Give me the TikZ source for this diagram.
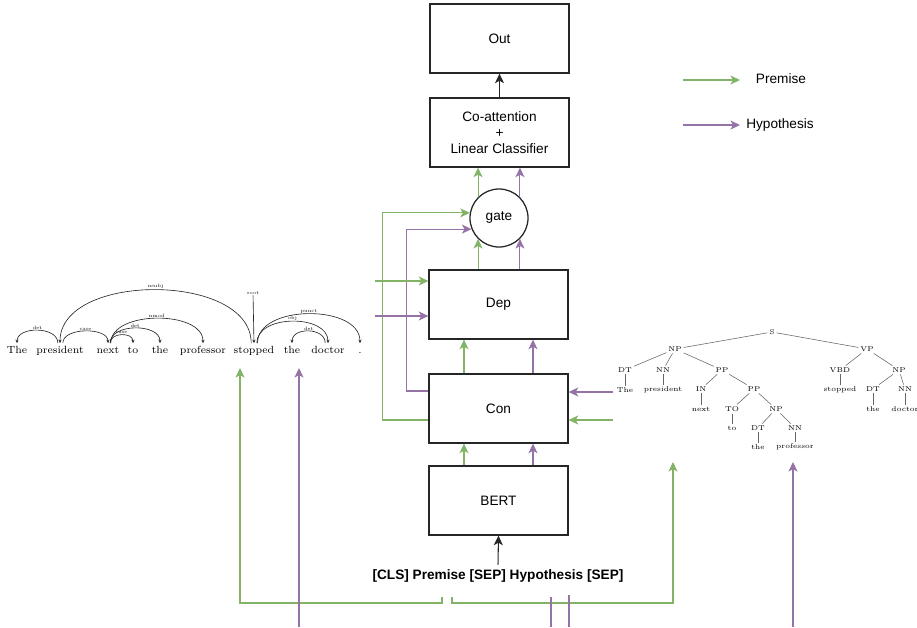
\documentclass[tikz,border=0pt]{standalone}
\usepackage{fontspec}
\setsansfont{Liberation Sans}
\usetikzlibrary{arrows.meta,calc}
\definecolor{premgreen}{HTML}{82B366}
\definecolor{hyppurple}{HTML}{9673A6}
\tikzset{
  box/.style={draw=black!85,line width=0.9pt,minimum width=3.475cm,minimum height=1.725cm,
    inner sep=0pt,align=center,font=\sffamily\fontsize{9.7}{11.2}\selectfont},
  prem/.style={draw=premgreen,line width=0.75pt},
  hyp/.style={draw=hyppurple,line width=0.75pt},
  flow/.style={draw=black!85,line width=0.75pt},
  legend/.style={font=\sffamily\fontsize{9.7}{11}\selectfont},
  % dependency parse
  dword/.style={anchor=base,inner sep=0.6pt,text height=1.45ex,text depth=0.2ex,
    font=\fontsize{7.4}{8}\selectfont},
  darc/.style={draw=black!85,line width=0.45pt,-{Stealth[length=2.4pt,width=2.2pt]}},
  dlab/.style={inner sep=0.4pt,font=\fontsize{3.4}{4}\selectfont},
  % constituency tree
  ctag/.style={inner sep=1.2pt,font=\fontsize{5}{6}\selectfont},
  tline/.style={draw=black!60,line width=0.4pt},
}
\begin{document}
\begin{tikzpicture}[x=0.025cm,y=-0.025cm,>={Stealth[length=6.8pt,width=6.4pt,inset=1.8pt]}]
\useasboundingbox (0,0) rectangle (917,627);
% main stack
\node (out) [box] at (499.5,38.5) {Out};
\node (coatt) [box] at (499.5,132.5) {Co-attention\\+\\Linear Classifier};
\node (gate) [draw=black!85,circle,line width=0.9pt,minimum size=1.45cm,inner sep=0pt,
  font=\sffamily\fontsize{9.7}{11}\selectfont] at (499,218) {gate};
\node (dep) [box] at (498.5,304.5) {Dep};
\node (con) [box] at (498.5,408.5) {Con};
\node (bert) [box] at (498.5,500.5) {BERT};
\node (input) [font=\sffamily\bfseries\fontsize{9.7}{11}\selectfont] at (498,576)
  {[CLS] Premise [SEP] Hypothesis [SEP]};
%
\draw[flow,->] (input.north) -- (bert.south);
\draw[flow,->] (coatt.north) -- (out.south);
\draw[prem,->] ($(bert.north)+(-34.5,0)$) -- ($(con.south)+(-34.5,0)$);
\draw[hyp,->] ($(bert.north)+(34.5,0)$) -- ($(con.south)+(34.5,0)$);
\draw[prem,->] ($(con.north)+(-34.5,0)$) -- ($(dep.south)+(-34.5,0)$);
\draw[hyp,->] ($(con.north)+(34.5,0)$) -- ($(dep.south)+(34.5,0)$);
\draw[prem,->] (dep.north -| gate.south west) -- (gate.south west);
\draw[hyp,->] (dep.north -| gate.south east) -- (gate.south east);
\draw[prem,->] (gate.north west) -- (coatt.south -| gate.north west);
\draw[hyp,->] (gate.north east) -- (coatt.south -| gate.north east);
% skip connections from Con to gate
\draw[prem,->] ($(con.west)+(0,11.5)$) -- ++(-46,0) |- (gate.170);
\draw[hyp,->] ($(con.west)+(0,-17.5)$) -- ++(-22,0) |- (gate.202);
% side inputs
\coordinate (depP) at (375,281);
\coordinate (depH) at (375,316);
\coordinate (conH) at (613,392);
\coordinate (conP) at (613,420);
\draw[prem,->] (depP) -- (depP -| dep.west);
\draw[hyp,->] (depH) -- (depH -| dep.west);
\draw[hyp,->] (conH) -- (conH -| con.east);
\draw[prem,->] (conP) -- (conP -| con.east);
% routing under the input
\coordinate (pin1) at (442,597);
\coordinate (pin2) at (452,597);
\coordinate (dtgt) at (240,368);
\coordinate (ctgt) at (673,462);
\draw[prem,->] (pin1) -- ++(0,6) -| (dtgt);
\draw[prem,->] (pin2) -- ++(0,6) -| (ctgt);
\coordinate (hbot1) at (299,627);
\coordinate (htgt1) at (299,368);
\coordinate (hbot2) at (793,627);
\coordinate (htgt2) at (793,462);
\draw[hyp,->] (hbot1) -- (htgt1);
\draw[hyp,->] (hbot2) -- (htgt2);
\coordinate (hin1) at (551,597);
\coordinate (hin2) at (569,595);
\draw[hyp] (hin1) -- (hin1 |- hbot1);
\draw[hyp] (hin2) -- (hin2 |- hbot1);
% legend
\coordinate (lgP) at (683,80);
\coordinate (lgH) at (683,125);
\node (lgPt) [legend] at (781,79) {Premise};
\node (lgHt) [legend] at (780,125) {Hypothesis};
\draw[prem,->] (lgP) -- ++(57,0);
\draw[hyp,->] (lgH) -- ++(57,0);
% dependency parse
\foreach \x/\w [count=\i] in {17/The,60/president,108/next,133/to,160/the,
    203/professor,254/stopped,292/the,328/doctor,360/.}
  \node (d\i) [dword] at (\x,353) {\w};
\draw[darc] ([xshift=-1.5pt]d2.north) .. controls +(0,-17) and +(0,-17) .. (d1.north)
  node[dlab,midway,above] {det};
\draw[darc] ([xshift=2pt]d2.north) .. controls +(0,-16) and +(0,-16) .. (d3.north)
  node[dlab,midway,above] {case};
\draw[darc] ([xshift=1.5pt]d3.north) .. controls +(0,-11) and +(0,-11) .. (d4.north)
  node[dlab,midway,above] {case};
\draw[darc] ([xshift=1.5pt]d3.north) .. controls +(0,-20) and +(0,-20) .. (d5.north)
  node[dlab,midway,above] {det};
\draw[darc] ([xshift=2pt]d3.north) .. controls +(0,-33) and +(0,-33) .. (d6.north)
  node[dlab,midway,above] {nmod};
\draw[darc] ([xshift=-2pt]d7.north) .. controls +(0,-71) and +(0,-71) .. (d2.north)
  node[dlab,midway,above] {nsubj};
\draw[darc] ([xshift=2pt]d7.north) .. controls +(0,-29) and +(0,-29) .. (d9.north)
  node[dlab,midway,above] {obj};
\draw[darc] ([xshift=2.5pt]d7.north) .. controls +(0,-39) and +(0,-39) .. (d10.north)
  node[dlab,midway,above] {punct};
\draw[darc] ([xshift=-2pt]d9.north) .. controls +(0,-16) and +(0,-16) .. (d8.north)
  node[dlab,midway,above] {det};
\node (root) [dlab] at (253,293) {root};
\draw[darc] (root) -- (d7.north);
% constituency tree
\node (s) [ctag] at (772,332) {S};
\node (np) [ctag] at (675,349) {NP};
\node (vp) [ctag] at (867,349) {VP};
\node (dt1) [ctag] at (625,370) {DT};
\node (nn1) [ctag] at (663,370) {NN};
\node (pp1) [ctag] at (722,370) {PP};
\node (in) [ctag] at (701,389) {IN};
\node (pp2) [ctag] at (754,389) {PP};
\node (to) [ctag] at (732,409) {TO};
\node (np2) [ctag] at (776,409) {NP};
\node (dt2) [ctag] at (758,428) {DT};
\node (nn2) [ctag] at (795,428) {NN};
\node (vbd) [ctag] at (840,370) {VBD};
\node (np3) [ctag] at (899,370) {NP};
\node (dt3) [ctag] at (873,389) {DT};
\node (nn3) [ctag] at (905,389) {NN};
\node (w1) [ctag] at (625,390) {The};
\node (w2) [ctag] at (663,390) {president};
\node (w3) [ctag] at (701,409) {next};
\node (w4) [ctag] at (732,428) {to};
\node (w5) [ctag] at (758,447) {the};
\node (w6) [ctag] at (795,447) {professor};
\node (w7) [ctag] at (840,390) {stopped};
\node (w8) [ctag] at (873,409) {the};
\node (w9) [ctag] at (905,409) {doctor};
\draw[tline] (s) -- (np);  \draw[tline] (s) -- (vp);
\draw[tline] (np) -- (dt1); \draw[tline] (np) -- (nn1); \draw[tline] (np) -- (pp1);
\draw[tline] (pp1) -- (in); \draw[tline] (pp1) -- (pp2);
\draw[tline] (pp2) -- (to); \draw[tline] (pp2) -- (np2);
\draw[tline] (np2) -- (dt2); \draw[tline] (np2) -- (nn2);
\draw[tline] (vp) -- (vbd); \draw[tline] (vp) -- (np3);
\draw[tline] (np3) -- (dt3); \draw[tline] (np3) -- (nn3);
\draw[tline] (dt1) -- (w1); \draw[tline] (nn1) -- (w2); \draw[tline] (in) -- (w3);
\draw[tline] (to) -- (w4); \draw[tline] (dt2) -- (w5); \draw[tline] (nn2) -- (w6);
\draw[tline] (vbd) -- (w7); \draw[tline] (dt3) -- (w8); \draw[tline] (nn3) -- (w9);
\end{tikzpicture}
\end{document}
